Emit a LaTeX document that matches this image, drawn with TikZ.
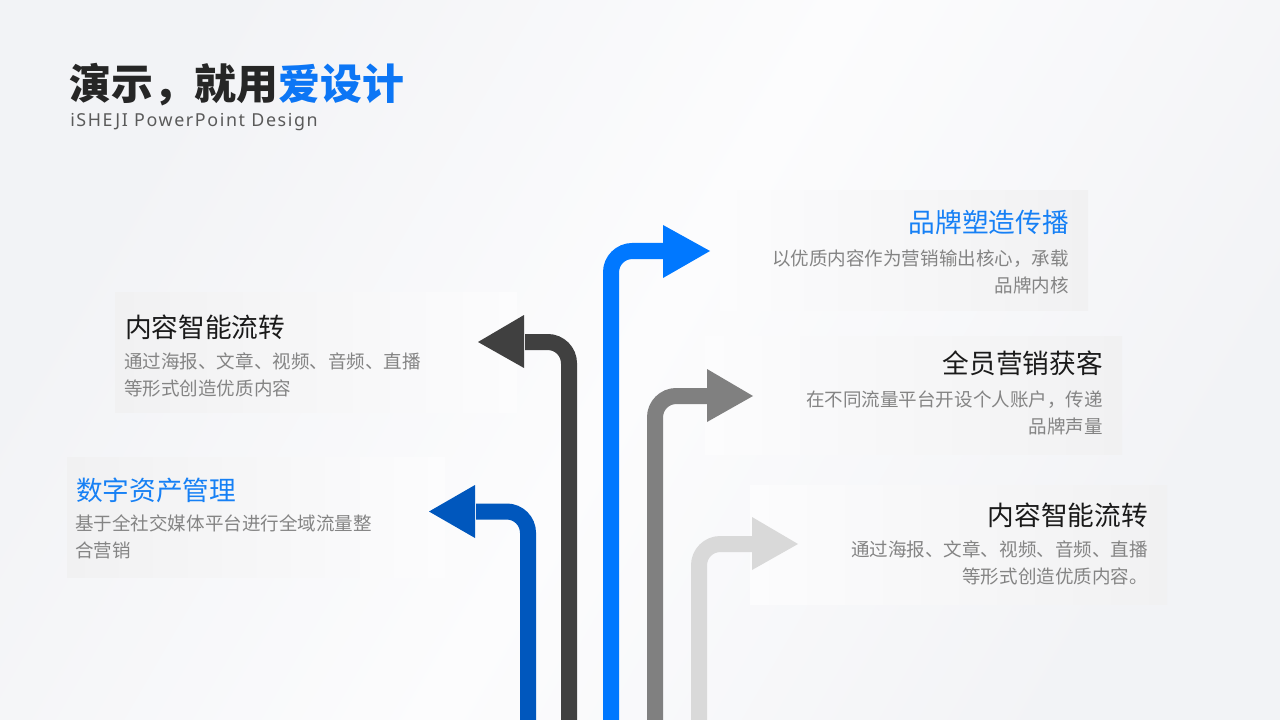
\documentclass[tikz,border=0pt]{standalone}
\usepackage{fontspec}
\setmainfont{Noto Sans CJK SC}
\newfontfamily\latinfont{Noto Sans}[LetterSpace=9]
\definecolor{bgA}{RGB}{242,243,246}
\definecolor{bgB}{RGB}{252,252,253}
\definecolor{boxgray}{RGB}{241,241,242}
\definecolor{arDarkBlue}{RGB}{0,87,189}
\definecolor{arDark}{RGB}{64,64,64}
\definecolor{arBlue}{RGB}{0,120,255}
\definecolor{arGray}{RGB}{128,128,128}
\definecolor{arLight}{RGB}{217,217,217}
\definecolor{titleBlack}{RGB}{38,38,38}
\definecolor{titleBlue}{RGB}{12,118,245}
\definecolor{headBlue}{RGB}{22,128,245}
\definecolor{headBlack}{RGB}{26,26,26}
\definecolor{bodyGray}{RGB}{132,132,132}
\definecolor{subGray}{RGB}{90,90,90}
\begin{document}
\begin{tikzpicture}[x=0.75pt,y=-0.75pt,
  shaft/.style={line width=12pt, rounded corners=16pt},
  boxleft/.style={left color=boxgray, right color=boxgray!0!bgB, draw=none},
  boxright/.style={right color=boxgray, left color=boxgray!0!bgB, draw=none},
  headtxt/.style={inner sep=0pt, font=\fontsize{20}{24}\selectfont},
  bodytxt/.style={inner sep=0pt, text=bodyGray, font=\fontsize{13.9}{18}\selectfont}]
\useasboundingbox (0,0) rectangle (1280,720);
\shade[top color=bgA, bottom color=bgA, middle color=bgB, shading angle=60] (0,0) rectangle (1280,720);

% boxes
\fill[boxleft] (115,292) rectangle (517,412);
\fill[boxleft] (67,457) rectangle (445,577);
\fill[boxright] (720,191) rectangle (1088,310);
\fill[boxright] (705,336) rectangle (1122,454);
\fill[boxright] (750,485) rectangle (1167,604);

% title
\node[inner sep=0pt, anchor=base west, font=\fontsize{31.4}{36}\selectfont\bfseries] (title) at (69,100)
  {\textcolor{titleBlack}{演示，就用}\textcolor{titleBlue}{爱设计}};
\node[inner sep=0pt, anchor=base west, text=subGray, font=\latinfont\fontsize{13.4}{16}\selectfont] (subtitle) at (70,127)
  {iSHEJI PowerPoint Design};

% arrows: coordinates
\coordinate (a1s) at (528,720); \coordinate (a1c) at (528,511.5); \coordinate (a1h) at (476,511.5);
\coordinate (a2s) at (569,720); \coordinate (a2c) at (569,342); \coordinate (a2h) at (525,342);
\coordinate (a3s) at (611,720); \coordinate (a3c) at (611,251); \coordinate (a3h) at (663,251);
\coordinate (a4s) at (655,720); \coordinate (a4c) at (655,396); \coordinate (a4h) at (707,396);
\coordinate (a5s) at (699,720); \coordinate (a5c) at (699,544); \coordinate (a5h) at (752,544);

\draw[shaft, arDarkBlue] (a1s) -- (a1c) -- (a1h);
\fill[arDarkBlue] (475,485) -- (429,511.5) -- (475,538) -- cycle;
\draw[shaft, arDark] (a2s) -- (a2c) -- (a2h);
\fill[arDark] (524,315) -- (478,342) -- (524,368) -- cycle;
\draw[shaft, arBlue] (a3s) -- (a3c) -- (a3h);
\fill[arBlue] (663,225) -- (710,251) -- (663,278) -- cycle;
\draw[shaft, arGray] (a4s) -- (a4c) -- (a4h);
\fill[arGray] (707,369) -- (753,396) -- (707,422) -- cycle;
\draw[shaft, arLight] (a5s) -- (a5c) -- (a5h);
\fill[arLight] (752,517) -- (798,544) -- (752,570) -- cycle;

% texts left box 1
\node[headtxt, anchor=base west, text=headBlack] (h1) at (125,337) {内容智能流转};
\node[bodytxt, anchor=base west] (b1a) at (124,368) {通过海报、文章、视频、音频、直播};
\node[bodytxt, anchor=base west] (b1b) at (124,395) {等形式创造优质内容};
% left box 2
\node[headtxt, anchor=base west, text=headBlue] (h2) at (76,500) {数字资产管理};
\node[bodytxt, anchor=base west] (b2a) at (75,530) {基于全社交媒体平台进行全域流量整};
\node[bodytxt, anchor=base west] (b2b) at (75,557) {合营销};
% right box 1
\node[headtxt, anchor=base east, text=headBlue] (h3) at (1069,233) {品牌塑造传播};
\node[bodytxt, anchor=base east] (b3a) at (1069,265) {以优质内容作为营销输出核心，承载};
\node[bodytxt, anchor=base east] (b3b) at (1069,292) {品牌内核};
% right box 2
\node[headtxt, anchor=base east, text=headBlack] (h4) at (1103,373) {全员营销获客};
\node[bodytxt, anchor=base east] (b4a) at (1103,406) {在不同流量平台开设个人账户，传递};
\node[bodytxt, anchor=base east] (b4b) at (1103,433) {品牌声量};
% right box 3
\node[headtxt, anchor=base east, text=headBlack] (h5) at (1148,525) {内容智能流转};
\node[bodytxt, anchor=base east] (b5a) at (1148,556) {通过海报、文章、视频、音频、直播};
\node[bodytxt, anchor=base east] (b5b) at (1148,583) {等形式创造优质内容。};
\end{tikzpicture}
\end{document}
